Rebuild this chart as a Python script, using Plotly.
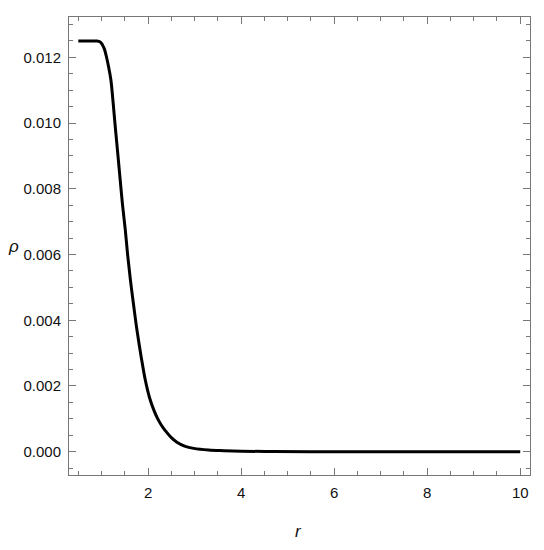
import plotly.graph_objects as go

# density profile
r = [0.5, 0.7, 0.9, 0.94, 0.98, 1.02, 1.06, 1.1, 1.15, 1.2, 1.25, 1.3, 1.35,
     1.4, 1.45, 1.51, 1.56, 1.62, 1.69, 1.76, 1.85, 1.94, 2.03, 2.12, 2.2,
     2.28, 2.37, 2.5, 2.62, 2.8, 2.98, 3.3, 3.63, 4.0, 4.7, 5.5, 6.5, 7.5,
     8.5, 9.5, 10.0]
rho = [0.0125, 0.0125, 0.0125, 0.01249, 0.01246, 0.01238, 0.01226, 0.01205,
       0.01172, 0.01132, 0.01060, 0.00980, 0.00905, 0.00828, 0.00752, 0.00675,
       0.00600, 0.00523, 0.00445, 0.00371, 0.00290, 0.00218, 0.00165, 0.00128,
       0.00102, 0.00082, 0.00064, 0.00043, 0.00029, 0.00016, 0.00010, 0.00005,
       0.00003, 0.000015, 0.000003, 0, 0, 0, 0, 0, 0]

x_ticks = [2, 4, 6, 8, 10]
y_ticks = [0.000, 0.002, 0.004, 0.006, 0.008, 0.010, 0.012]

font_name = 'Liberation Sans, Arial, sans-serif'

fig = go.Figure()
fig.add_trace(go.Scatter(x=r, y=rho,
                         mode='lines',
                         line=dict(color='black', width=3, shape='spline', smoothing=1.0),
                         showlegend=False))

axis_style = dict(showline=True, linecolor='#777777', linewidth=1, mirror='ticks',
                  ticks='inside', ticklen=7, tickcolor='#777777', tickwidth=1,
                  showgrid=False, zeroline=False, automargin=False,
                  tickfont=dict(family=font_name, size=15, color='#111111'))

fig.update_xaxes(range=[0.30, 10.21], tickvals=x_ticks,
                 ticktext=[str(v) for v in x_ticks],
                 minor=dict(ticks='inside', ticklen=4, tickcolor='#777777', dtick=0.5, tick0=0),
                 ticklabelstandoff=4,
                 **axis_style)
fig.update_yaxes(range=[-0.00071, 0.01323], tickvals=y_ticks,
                 ticktext=['%.3f' % v for v in y_ticks],
                 minor=dict(ticks='inside', ticklen=4, tickcolor='#777777', dtick=0.0005, tick0=0),
                 ticklabelstandoff=4,
                 **axis_style)

# axis labels, placed like the reference (rho upright, left of the tick labels)
fig.add_annotation(text='<i>ρ</i>', xref='paper', yref='paper', x=-0.12, y=0.50,
                   xanchor='center', yanchor='middle',
                   showarrow=False, font=dict(family=font_name, size=17, color='#111111'))
fig.add_annotation(text='<i>r</i>', xref='paper', yref='paper', x=0.497, y=-0.124,
                   xanchor='center', yanchor='middle',
                   showarrow=False, font=dict(family=font_name, size=17, color='#111111'))

# the page body adds an 8px offset, so the figure is shrunk to fit the window
fig.update_layout(width=536, height=542,
                  margin=dict(l=61, r=14, t=9, b=75),
                  plot_bgcolor='white', paper_bgcolor='white')

fig.write_html("out.html")
